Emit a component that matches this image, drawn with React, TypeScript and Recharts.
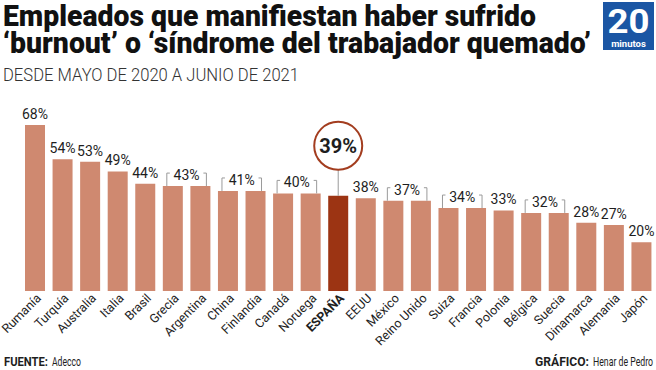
import { BarChart, Bar, XAxis, YAxis, Cell, LabelList } from 'recharts';

const countries = [
    'Rumanía', 'Turquía', 'Australia', 'Italia', 'Brasil', 'Grecia', 'Argentina', 'China',
    'Finlandia', 'Canadá', 'Noruega', 'ESPAÑA', 'EEUU', 'México', 'Reino Unido', 'Suiza',
    'Francia', 'Polonia', 'Bélgica', 'Suecia', 'Dinamarca', 'Alemania', 'Japón',
];
const values = [68, 54, 53, 49, 44, 43, 43, 41, 41, 40, 40, 39, 38, 37, 37, 34, 34, 33, 32, 32, 28, 27, 20];
const highlight = 'ESPAÑA';

const data = countries.map((name, i) => ({ name, value: values[i] }));

const W = 656;
const H = 370;
const MARGIN = { top: 47, right: 1, bottom: 0, left: 21 };
const STEP = (W - MARGIN.left - MARGIN.right) / countries.length;

const BAR = '#cf8970';
const BAR_HI = '#9c3413';
const TEXT = '#1e1e1e';
const GREY = '#9a9a9a';
const FONT = 'Roboto, "Noto Sans", sans-serif';

const ValueLabel = (props: any) => {
    const { x, y, width, value, index } = props;
    const cx = x + width / 2;
    const name = countries[index];
    if (name === highlight) {
        const r = 24;
        const cy = y - 50;
        return (
            <g>
                <line x1={cx} y1={cy + r} x2={cx} y2={y} stroke={GREY} strokeWidth={1} />
                <circle cx={cx} cy={cy} r={r} fill="#fff" stroke="#a33d1f" strokeWidth={2} />
                <text x={cx} y={cy + 7} textAnchor="middle" fontFamily={FONT} fontWeight={700} fontSize={20} fill={TEXT}>
                    {value}%
                </text>
            </g>
        );
    }
    // equal neighbours share one bracket label
    if (index > 0 && values[index - 1] === value) return null;
    if (values[index + 1] === value) {
        const mid = cx + STEP / 2;
        const l = cx - 6;
        const rr = cx + STEP + 6;
        const top = y - 13;
        return (
            <g>
                <path d={`M${l},${y} V${top} h3 M${rr},${y} V${top} h-3`} stroke={GREY} strokeWidth={1} fill="none" />
                <text x={mid} y={y - 6} textAnchor="middle" fontFamily={FONT} fontSize={14} fill={TEXT}>
                    {value}%
                </text>
            </g>
        );
    }
    return (
        <text x={cx} y={y - 6} textAnchor="middle" fontFamily={FONT} fontSize={14} fill={TEXT}>
            {value}%
        </text>
    );
};

const CountryTick = ({ x, y, payload }: any) => (
    <text
        x={x + 7}
        y={y + 8}
        transform={`rotate(-45, ${x + 7}, ${y + 8})`}
        textAnchor="end"
        fontFamily={FONT}
        fontSize={12.5}
        fontWeight={payload.value === highlight ? 700 : 400}
        fill={TEXT}
    >
        {payload.value}
    </text>
);

export default function App() {
    return (
        <div style={{ position: 'absolute', left: 0, top: 0, width: W, height: H, background: '#fff' }}>
            <BarChart width={W} height={H} data={data} margin={MARGIN}>
                <XAxis
                    dataKey="name"
                    interval={0}
                    height={79}
                    axisLine={false}
                    tickLine={false}
                    tickSize={0}
                    tickMargin={0}
                    tick={<CountryTick />}
                />
                <YAxis hide domain={[0, 100]} />
                <Bar dataKey="value" barSize={20} isAnimationActive={false}>
                    {data.map((d) => (
                        <Cell key={d.name} fill={d.name === highlight ? BAR_HI : BAR} />
                    ))}
                    <LabelList dataKey="value" content={<ValueLabel />} />
                </Bar>
            </BarChart>

            <svg width={W} height={H} style={{ position: 'absolute', left: 0, top: 0, pointerEvents: 'none' }}>
                <text x={3} y={26} fontFamily={FONT} fontWeight={900} fontSize={29} fill="#111"
                    textLength={533} lengthAdjust="spacingAndGlyphs">
                    Empleados que manifiestan haber sufrido
                </text>
                <text x={3} y={53} fontFamily={FONT} fontWeight={900} fontSize={29} fill="#111"
                    textLength={588} lengthAdjust="spacingAndGlyphs">
                    ‘burnout’ o ‘síndrome del trabajador quemado’
                </text>
                <text x={3} y={81} fontFamily={FONT} fontWeight={300} fontSize={18} fill="#333"
                    textLength={296} lengthAdjust="spacingAndGlyphs">
                    DESDE MAYO DE 2020 A JUNIO DE 2021
                </text>

                <rect x={603} y={2} width={51} height={48} fill="#1b56a4" />
                <text x={628.5} y={33} textAnchor="middle" fontFamily={FONT} fontWeight={700} fontSize={33} fill="#fff"
                    textLength={42} lengthAdjust="spacingAndGlyphs">
                    20
                </text>
                <text x={628.5} y={46.5} textAnchor="middle" fontFamily={FONT} fontWeight={700} fontSize={9.5} fill="#fff">
                    minutos
                </text>

                <text x={4} y={366} fontFamily={FONT} fontWeight={700} fontSize={13} fill={TEXT}
                    textLength={44} lengthAdjust="spacingAndGlyphs">
                    FUENTE:
                </text>
                <text x={52} y={366} fontFamily={FONT} fontSize={13} fill={TEXT}
                    textLength={29} lengthAdjust="spacingAndGlyphs">
                    Adecco
                </text>
                <text x={589} y={366} textAnchor="end" fontFamily={FONT} fontWeight={700} fontSize={13} fill={TEXT}
                    textLength={54} lengthAdjust="spacingAndGlyphs">
                    GRÁFICO:
                </text>
                <text x={653} y={366} textAnchor="end" fontFamily={FONT} fontSize={13} fill={TEXT}
                    textLength={60} lengthAdjust="spacingAndGlyphs">
                    Henar de Pedro
                </text>
            </svg>
        </div>
    );
}
